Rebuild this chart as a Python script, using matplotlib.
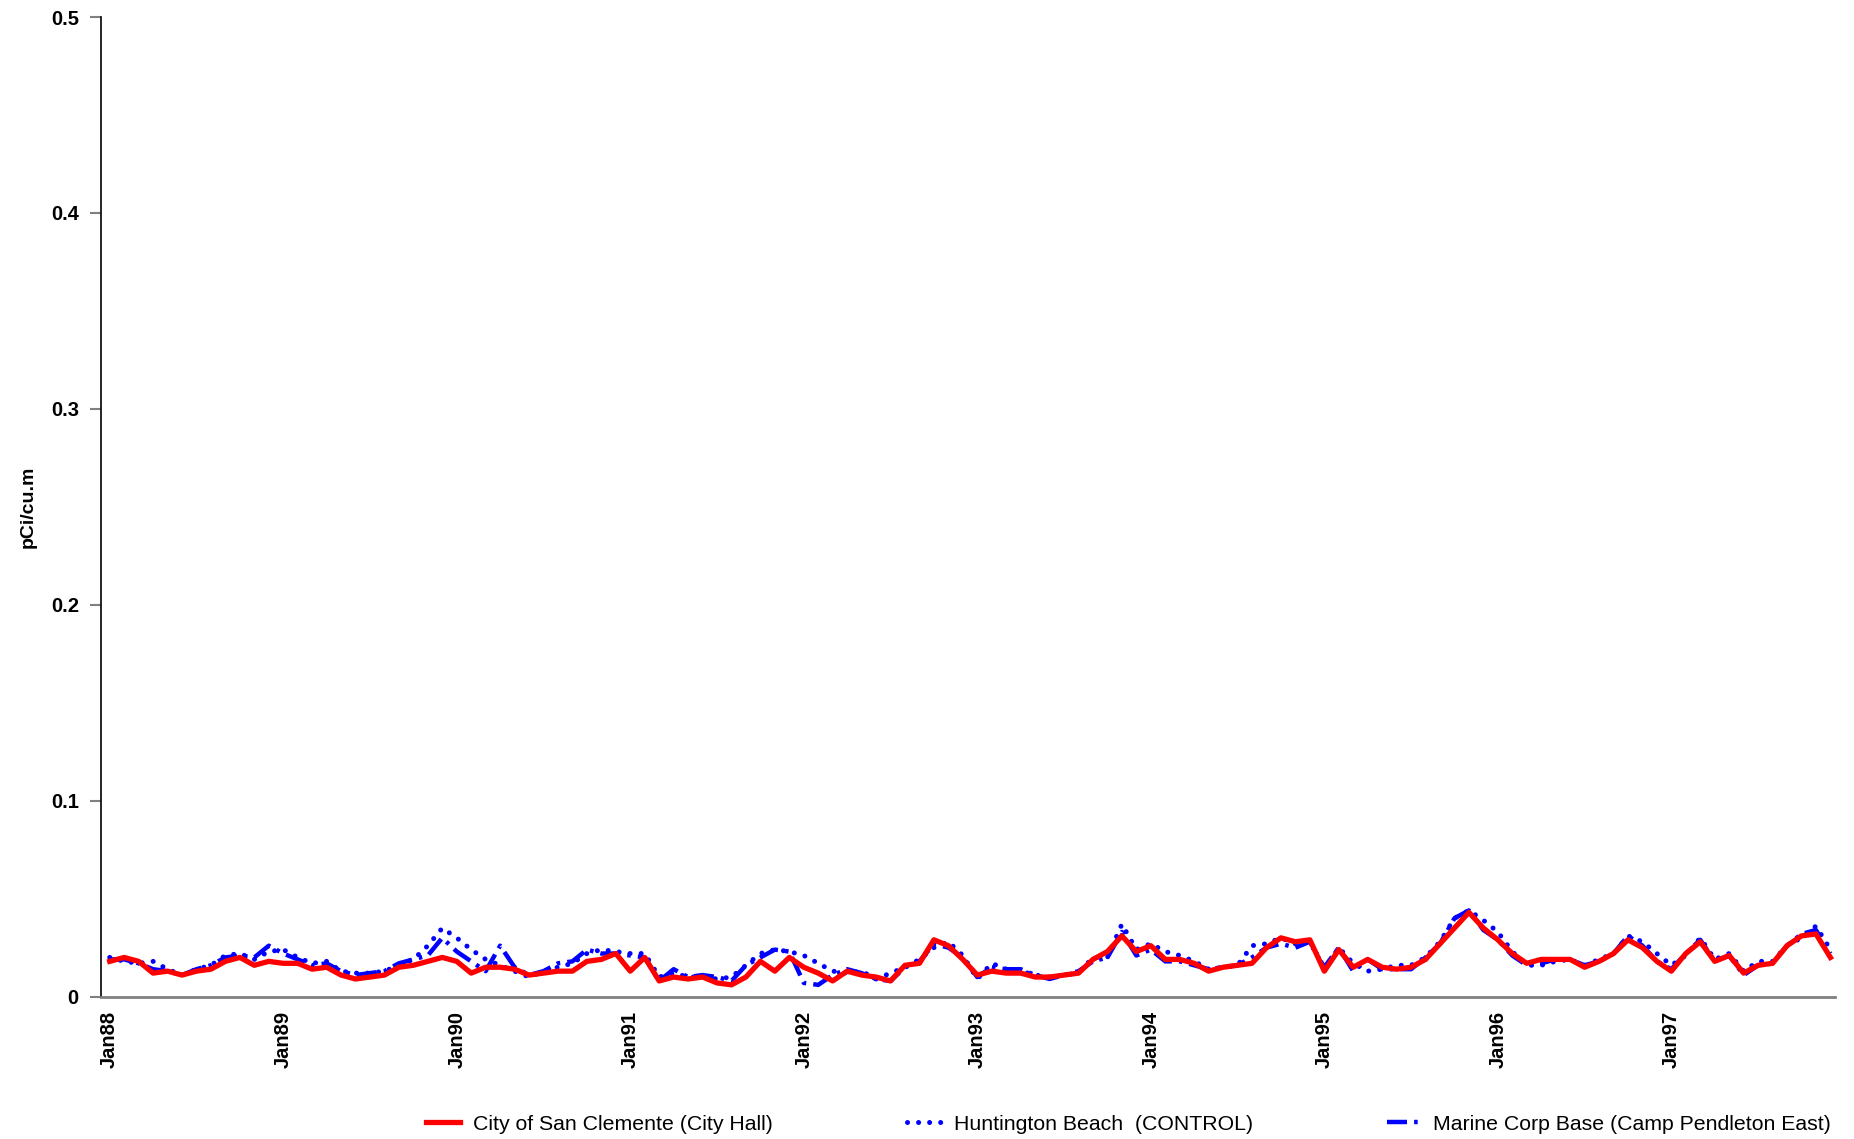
import matplotlib
matplotlib.use("Agg")
import matplotlib.pyplot as plt
import numpy as np

years = ["88", "89", "90", "91", "92", "93", "94", "95", "96", "97"]
tick_labels = ["Jan" + y for y in years]

san_clemente = [
    0.018, 0.020, 0.018, 0.012, 0.013, 0.011, 0.013, 0.014, 0.018, 0.020, 0.016, 0.018,
    0.017, 0.017, 0.014, 0.015, 0.011, 0.009, 0.010, 0.011, 0.015, 0.016, 0.018, 0.020,
    0.018, 0.012, 0.015, 0.015, 0.014, 0.011, 0.012, 0.013, 0.013, 0.018, 0.019, 0.022,
    0.013, 0.020, 0.008, 0.010, 0.009, 0.010, 0.007, 0.006, 0.010, 0.018, 0.013, 0.020,
    0.015, 0.012, 0.008, 0.013, 0.011, 0.010, 0.008, 0.016, 0.017, 0.029, 0.026, 0.019,
    0.011, 0.013, 0.012, 0.012, 0.010, 0.010, 0.011, 0.012, 0.019, 0.023, 0.031, 0.023,
    0.026, 0.019, 0.019, 0.017, 0.013, 0.015, 0.016, 0.017, 0.025, 0.030, 0.028, 0.029,
    0.013, 0.024, 0.015, 0.019, 0.015, 0.014, 0.015, 0.019, 0.027, 0.035, 0.043, 0.035,
    0.029, 0.022, 0.017, 0.019, 0.019, 0.019, 0.015, 0.018, 0.022, 0.029, 0.025, 0.018,
    0.013, 0.022, 0.028, 0.018, 0.021, 0.012, 0.016, 0.017, 0.026, 0.031, 0.032, 0.020,
]

huntington = [
    0.020, 0.018, 0.017, 0.018, 0.014, 0.011, 0.014, 0.016, 0.021, 0.022, 0.019, 0.023,
    0.024, 0.020, 0.017, 0.018, 0.013, 0.012, 0.012, 0.013, 0.016, 0.019, 0.026, 0.035,
    0.030, 0.024, 0.019, 0.016, 0.013, 0.010, 0.013, 0.015, 0.017, 0.022, 0.024, 0.023,
    0.022, 0.022, 0.010, 0.012, 0.010, 0.010, 0.009, 0.010, 0.016, 0.022, 0.024, 0.023,
    0.021, 0.017, 0.013, 0.012, 0.013, 0.009, 0.012, 0.015, 0.019, 0.025, 0.028, 0.021,
    0.009, 0.017, 0.014, 0.013, 0.011, 0.010, 0.011, 0.012, 0.020, 0.020, 0.037, 0.024,
    0.027, 0.023, 0.021, 0.018, 0.014, 0.015, 0.016, 0.026, 0.027, 0.030, 0.027, 0.028,
    0.014, 0.025, 0.017, 0.013, 0.014, 0.016, 0.016, 0.020, 0.028, 0.040, 0.044, 0.039,
    0.033, 0.023, 0.016, 0.016, 0.018, 0.019, 0.016, 0.019, 0.022, 0.031, 0.028, 0.022,
    0.016, 0.021, 0.030, 0.019, 0.022, 0.013, 0.018, 0.018, 0.026, 0.030, 0.036, 0.024,
]

marine_corp = [
    0.019, 0.019, 0.017, 0.014, 0.013, 0.011, 0.014, 0.016, 0.020, 0.021, 0.020, 0.026,
    0.022, 0.019, 0.016, 0.017, 0.013, 0.011, 0.012, 0.013, 0.017, 0.019, 0.021, 0.030,
    0.023, 0.018, 0.013, 0.026, 0.015, 0.011, 0.013, 0.017, 0.018, 0.024, 0.022, 0.022,
    0.021, 0.020, 0.008, 0.014, 0.010, 0.011, 0.010, 0.008, 0.016, 0.020, 0.024, 0.023,
    0.007, 0.006, 0.011, 0.014, 0.012, 0.009, 0.008, 0.015, 0.018, 0.027, 0.025, 0.020,
    0.010, 0.015, 0.014, 0.014, 0.011, 0.009, 0.011, 0.013, 0.018, 0.020, 0.033, 0.021,
    0.024, 0.018, 0.018, 0.016, 0.014, 0.015, 0.016, 0.020, 0.025, 0.027, 0.025, 0.028,
    0.015, 0.025, 0.013, 0.019, 0.014, 0.014, 0.014, 0.020, 0.027, 0.040, 0.044, 0.034,
    0.029, 0.021, 0.016, 0.017, 0.019, 0.019, 0.016, 0.018, 0.022, 0.031, 0.026, 0.018,
    0.014, 0.022, 0.029, 0.018, 0.021, 0.011, 0.016, 0.017, 0.026, 0.032, 0.034, 0.022,
]

series_names = ["City of San Clemente (City Hall)",
                "Huntington Beach  (CONTROL)",
                "Marine Corp Base (Camp Pendleton East)"]

months = np.arange(len(san_clemente))

fig = plt.figure(figsize=(18.54, 11.39), dpi=100)
ax = fig.add_axes([0.0545, 0.125, 0.9355, 0.86])

ax.plot(months, marine_corp, color="#0000FF", lw=3.2,
        linestyle=(0, (4.5, 1.6, 0.8, 1.6)), label=series_names[2], zorder=2)
ax.plot(months, huntington, color="#0000FF", lw=3.6,
        linestyle=(0, (0.01, 2.2)), dash_capstyle="round", label=series_names[1], zorder=3)
ax.plot(months, san_clemente, color="#FF0000", lw=3.8,
        linestyle="-", label=series_names[0], zorder=4)

ax.set_xlim(-0.6, 119.35)
ax.set_ylim(0, 0.5)
ax.set_yticks([0, 0.1, 0.2, 0.3, 0.4, 0.5])
ax.set_yticklabels(["0", "0.1", "0.2", "0.3", "0.4", "0.5"])
ax.set_xticks(np.arange(0, 120, 12))
ax.set_xticklabels(tick_labels, rotation=90)

for lab in ax.get_xticklabels() + ax.get_yticklabels():
    lab.set_fontweight("bold")
    lab.set_fontsize(14.5)
    lab.set_fontfamily("Liberation Sans")

ax.tick_params(axis="y", length=8, width=1.5, color="#808080", pad=8)
ax.tick_params(axis="x", length=0, pad=10)

ax.spines["top"].set_visible(False)
ax.spines["right"].set_visible(False)
ax.spines["left"].set_color("black")
ax.spines["left"].set_linewidth(1.2)
ax.spines["bottom"].set_color("#808080")
ax.spines["bottom"].set_linewidth(2)

ax.set_ylabel("pCi/cu.m", fontsize=14, fontweight="bold", family="Liberation Sans", labelpad=10)

handles, labels = ax.get_legend_handles_labels()
order = [2, 1, 0]
fig.legend([handles[i] for i in order], [labels[i] for i in order],
           loc="lower right", bbox_to_anchor=(0.998, -0.012), ncol=3,
           frameon=False, prop={"family": "Liberation Sans", "size": 15.3},
           handlelength=1.6, columnspacing=6.3, handletextpad=0.6)

fig.savefig("out.png", dpi=100)
